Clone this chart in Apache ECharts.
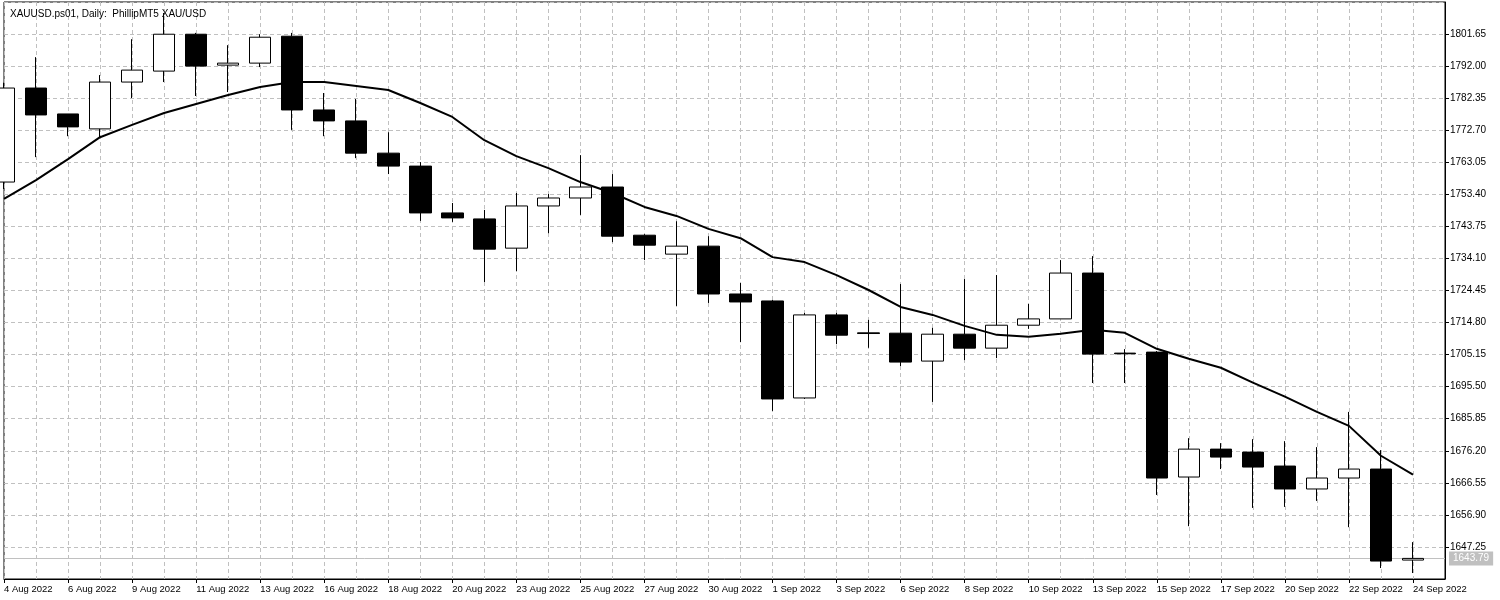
<!DOCTYPE html>
<html><head><meta charset="utf-8">
<script src="https://cdn.jsdelivr.net/npm/echarts@6/dist/echarts.min.js"></script>
<style>html,body{margin:0;padding:0;background:#fff}#c{width:1500px;height:600px}</style>
</head><body><div id="c"></div>
<script>
const categories = ['4 Aug 2022','5 Aug 2022','6 Aug 2022','8 Aug 2022','9 Aug 2022','10 Aug 2022','11 Aug 2022','12 Aug 2022','13 Aug 2022','15 Aug 2022','16 Aug 2022','17 Aug 2022','18 Aug 2022','19 Aug 2022','20 Aug 2022','22 Aug 2022','23 Aug 2022','24 Aug 2022','25 Aug 2022','26 Aug 2022','27 Aug 2022','29 Aug 2022','30 Aug 2022','31 Aug 2022','1 Sep 2022','2 Sep 2022','3 Sep 2022','5 Sep 2022','6 Sep 2022','7 Sep 2022','8 Sep 2022','9 Sep 2022','10 Sep 2022','12 Sep 2022','13 Sep 2022','14 Sep 2022','15 Sep 2022','16 Sep 2022','17 Sep 2022','19 Sep 2022','20 Sep 2022','21 Sep 2022','22 Sep 2022','23 Sep 2022','24 Sep 2022',''];
// [open, close, low, high]
const ohlc = [
[1757.1,1785.4,1755.0,1787.0],[1785.4,1777.3,1764.6,1794.7],[1777.6,1773.7,1770.9,1777.6],[1773.1,1787.2,1770.6,1789.3],
[1787.2,1790.8,1782.4,1800.1],[1790.5,1801.6,1787.2,1808.0],[1801.6,1792.0,1783.0,1802.0],[1792.3,1792.9,1784.2,1798.3],
[1792.9,1800.7,1791.7,1801.6],[1801.0,1778.8,1772.8,1802.0],[1778.8,1775.5,1770.9,1783.9],[1775.5,1765.8,1764.3,1782.1],
[1765.8,1761.9,1759.5,1772.1],[1761.9,1747.8,1745.4,1763.1],[1747.8,1746.3,1745.1,1750.8],[1746.0,1736.9,1727.0,1748.7],
[1737.2,1749.9,1730.3,1753.8],[1749.9,1752.3,1741.7,1753.5],[1752.3,1755.6,1747.2,1765.2],[1755.6,1740.8,1739.0,1759.5],
[1741.1,1738.1,1733.6,1741.4],[1735.4,1737.8,1719.8,1745.3],[1737.8,1723.4,1720.7,1740.8],[1723.4,1721.0,1708.9,1726.7],
[1721.3,1691.8,1688.2,1721.6],[1692.1,1717.1,1691.8,1717.7],[1717.1,1711.0,1708.3,1717.7],[1711.7,1711.5,1707.2,1715.6],
[1711.6,1702.9,1701.7,1726.4],[1703.2,1711.3,1690.9,1713.2],[1711.3,1707.1,1703.5,1727.9],[1707.1,1714.0,1704.1,1729.1],
[1714.0,1715.9,1712.9,1720.4],[1715.9,1729.7,1715.9,1733.6],[1729.7,1705.3,1696.6,1734.8],[1705.6,1705.4,1696.6,1706.8],
[1705.9,1668.0,1662.9,1706.2],[1668.3,1676.7,1653.5,1680.0],[1676.7,1674.3,1670.7,1678.5],[1675.8,1671.3,1659.0,1679.7],
[1671.6,1664.7,1659.3,1679.1],[1664.7,1668.0,1661.1,1677.3],[1668.0,1670.7,1653.2,1687.9],[1670.7,1643.0,1640.9,1676.4],
[1643.3,1643.8,1639.4,1648.7]
];
const ma = [1752.0,1757.7,1764.0,1770.6,1774.3,1777.9,1780.6,1783.3,1785.7,1787.2,1787.2,1786.0,1784.8,1780.9,1776.7,1769.7,
1764.9,1761.3,1757.1,1753.8,1749.6,1746.9,1743.0,1740.2,1734.5,1733.0,1729.1,1724.6,1719.5,1717.1,1713.8,1711.1,1710.5,
1711.4,1712.6,1711.7,1706.9,1703.9,1701.2,1696.7,1692.5,1687.9,1683.7,1674.7,1669.0];
const lastPrice = 1643.79;
const title = 'XAUUSD.ps01, Daily:  PhillipMT5 XAU/USD';
const F = 'Liberation Sans';
const chart = echarts.init(document.getElementById('c'));
chart.setOption({
  animation:false,
  title:{text:title,left:5,top:4,textStyle:{fontFamily:F,fontSize:10,fontWeight:'normal',color:'#000'}},
  grid:{left:4,right:55,top:2,bottom:21,show:true,borderColor:'#000',borderWidth:1},
  xAxis:{type:'category',data:categories,boundaryGap:false,
    axisLine:{lineStyle:{color:'#000'}},
    axisTick:{show:true,interval:1,length:4,lineStyle:{color:'#000'}},
    axisLabel:{interval:1,align:'left',margin:5,fontFamily:F,fontSize:9.5,color:'#000'},
    splitLine:{show:true,interval:0,lineStyle:{color:'#c0c0c0',type:[4,3]}}},
  yAxis:{type:'value',position:'right',min:1637.6,max:1811.3,interval:9.65,scale:true,
    axisLine:{show:true,lineStyle:{color:'#000'}},
    axisTick:{show:true,length:4,lineStyle:{color:'#000'}},
    axisLabel:{showMinLabel:false,showMaxLabel:false,margin:5,fontFamily:F,fontSize:10,color:'#000',
      formatter:v=>v.toFixed(2)},
    splitLine:{show:true,lineStyle:{color:'#c0c0c0',type:[4,3]}}},
  series:[
    {type:'line',data:[],z:1,zlevel:0,
     markLine:{silent:true,symbol:'none',data:[{yAxis:lastPrice}],
       lineStyle:{color:'#c0c0c0',type:'solid',width:1},
       label:{position:'end',formatter:lastPrice.toFixed(2),color:'#fff',backgroundColor:'#c0c0c0',
         fontFamily:F,fontSize:10,padding:[2,4],distance:4}}},
    {type:'candlestick',data:ohlc,barWidth:22,clip:true,z:3,zlevel:1,
     itemStyle:{color:'#fff',color0:'#000',borderColor:'#000',borderColor0:'#000',borderWidth:1}},
    {type:'line',data:ma,showSymbol:false,symbol:'none',lineStyle:{color:'#000',width:2},z:5,zlevel:1}
  ]
});
</script></body></html>
